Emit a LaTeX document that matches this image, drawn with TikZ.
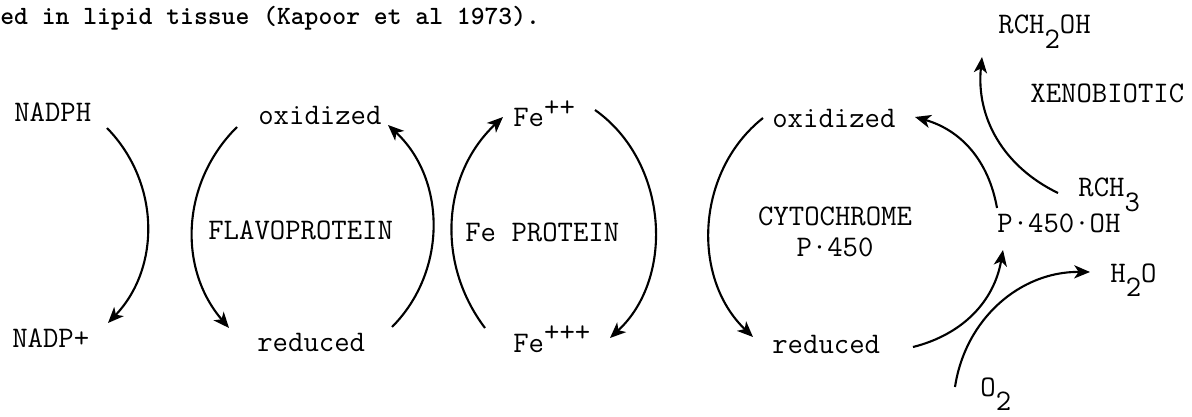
\documentclass[tikz,border=0pt]{standalone}
\usepackage{tikz}
\usetikzlibrary{arrows.meta, positioning}
\newcommand{\lowtxt}[1]{\raisebox{-.5em}{#1}}
\newcommand{\hightxt}[1]{\raisebox{.35em}{#1}}

\begin{document}
\begin{tikzpicture}[x=0.02cm, y=0.02cm,
  lbl/.style={font=\fontsize{17}{17.6}\selectfont\ttfamily, anchor=base west, inner sep=0pt},
  arr/.style={-{Stealth[length=9pt, width=7.5pt, inset=2.5pt]}, line width=1.2pt}]
% Page
\fill[white] (0,0) rectangle (1192,416);
% Caption line above
\node[lbl, font=\fontsize{15}{18}\selectfont\ttfamily\bfseries] (head) at (0,391) {ed in lipid tissue (Kapoor et al 1973).};
% NADPH pair
\node[lbl] (nadph) at (14,294) {NADPH};
\node[lbl] (nadpp) at (12,69) {NADP+};
% Flavoprotein
\node[lbl] (oxa) at (258,291) {oxidized};
\node[lbl] (reda) at (257,65) {reduced};
\node[lbl] (flavo) at (208,176) {FLAVOPROTEIN};
% Fe protein
\node[lbl] (feii) at (513,289) {Fe\hightxt{++}};
\node[lbl] (feiii) at (513,64) {Fe\hightxt{+++}};
\node[lbl] (feprot) at (465,174) {Fe PROTEIN};
% Cytochrome P-450
\node[lbl] (oxb) at (772,288) {oxidized};
\node[lbl] (redb) at (772,63) {reduced};
\node[lbl, anchor=center, align=center] (cyto) at (835,184) {CYTOCHROME\\P·450};
% Xenobiotic side
\node[lbl] (p450oh) at (997,184) {P·450·OH};
\node[lbl] (rch3) at (1078,219) {RCH\lowtxt{3}};
\node[lbl] (rch2oh) at (998,382) {RCH\lowtxt{2}OH};
\node[lbl] (xeno) at (1030,313) {XENOBIOTIC};
\node[lbl] (h2o) at (1110,134) {H\lowtxt{2}O};
\node[lbl] (o2) at (980,20) {O\lowtxt{2}};
% Arrow ends
\coordinate (a1s) at (107,288); \coordinate (a1e) at (108,93);
\coordinate (a2s) at (237,289); \coordinate (a2e) at (229,88);
\coordinate (a3s) at (392,89);  \coordinate (a3e) at (388,291);
\coordinate (a4s) at (485,88);  \coordinate (a4e) at (503,299);
\coordinate (a5s) at (595,306); \coordinate (a5e) at (610,78);
\coordinate (a6s) at (763,298); \coordinate (a6e) at (753,79);
\coordinate (a7s) at (913,69);  \coordinate (a7e) at (1003,166);
\coordinate (a8s) at (997,208); \coordinate (a8e) at (915,299);
\coordinate (a9s) at (1058,223); \coordinate (a9e) at (982,359);
\coordinate (a10s) at (955,29); \coordinate (a10e) at (1090,144);
% Arrows
\draw[arr] (a1s) to[bend left=44] (a1e);
\draw[arr] (a2s) to[bend right=43] (a2e);
\draw[arr] (a3s) to[bend right=46] (a3e);
\draw[arr] (a4s) to[bend left=42] (a4e);
\draw[arr] (a5s) to[bend left=51] (a5e);
\draw[arr] (a6s) to[bend right=49] (a6e);
\draw[arr] (a7s) to[bend right=33] (a7e);
\draw[arr] (a8s) to[bend right=32] (a8e);
\draw[arr] (a9s) to[bend left=35] (a9e);
\draw[arr] (a10s) to[bend left=41] (a10e);
\end{tikzpicture}
\end{document}
